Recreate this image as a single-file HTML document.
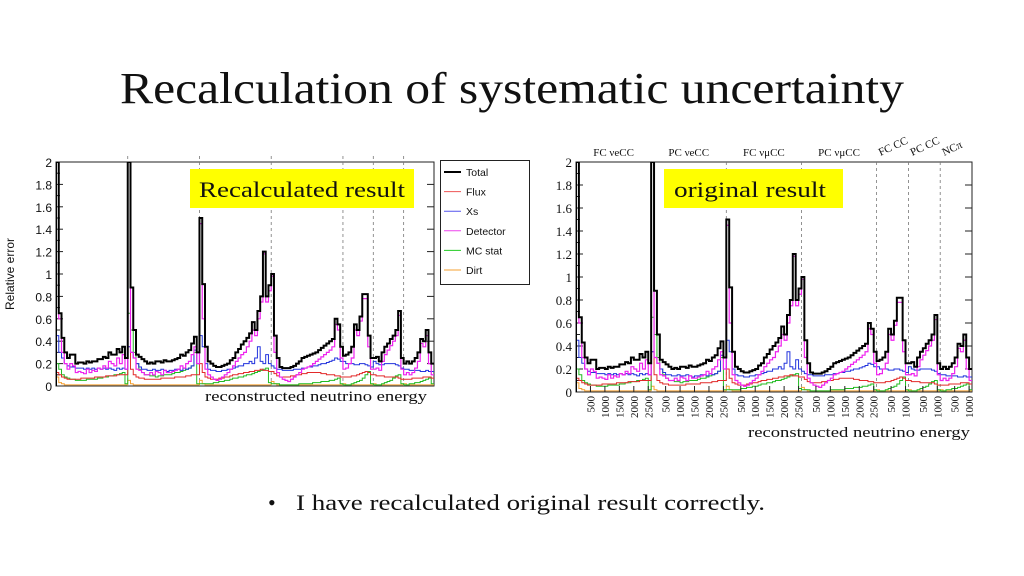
<!DOCTYPE html>
<html><head><meta charset="utf-8"><style>
html,body{margin:0;padding:0;background:#fff;}
svg{display:block;}
</style></head><body>
<svg id="s" width="1024" height="576" viewBox="0 0 1024 576" xmlns="http://www.w3.org/2000/svg">
<text x="512" y="103" text-anchor="middle" font-family="Liberation Serif, serif" font-size="44" textLength="784" lengthAdjust="spacingAndGlyphs" fill="#111">Recalculation of systematic uncertainty</text>
<g id="left"></g>
<g id="right"></g>
<text x="268" y="510" font-family="Liberation Serif, serif" font-size="22" fill="#111">•<tspan x="296" textLength="469" lengthAdjust="spacingAndGlyphs">I have recalculated original result correctly.</tspan></text>
</svg>
<script>
// bin data: 7 channels (26,26,26,26,11,11,11 bins)
const channelSizes=[26,26,26,26,11,11,11];
const channelNames=["FC \u03BDeCC","PC \u03BDeCC","FC \u03BD\u03BCCC","PC \u03BD\u03BCCC","FC CC","PC CC","NC\u03C0"];
const yTicks=[0,0.2,0.4,0.6,0.8,1,1.2,1.4,1.6,1.8,2];
const yTickLabels=["0","0.2","0.4","0.6","0.8","1","1.2","1.4","1.6","1.8","2"];
const xTickLabelsLong=["500","1000","1500","2000","2500"];
const xTickLabelsShort=["500","1000"];
const total=[2,0.65,0.43,0.3,0.25,0.28,0.28,0.2,0.21,0.21,0.2,0.22,0.21,0.22,0.22,0.24,0.24,0.26,0.25,0.3,0.28,0.28,0.33,0.3,0.35,0.25,
2,0.88,0.5,0.28,0.26,0.24,0.22,0.2,0.21,0.2,0.22,0.22,0.21,0.23,0.22,0.22,0.23,0.24,0.25,0.28,0.27,0.3,0.32,0.38,0.44,0.3,
1.5,0.91,0.35,0.22,0.2,0.18,0.17,0.17,0.18,0.19,0.2,0.23,0.25,0.3,0.33,0.37,0.4,0.43,0.47,0.57,0.5,0.67,0.8,1.2,0.8,0.9,
1.0,0.45,0.25,0.17,0.16,0.16,0.16,0.17,0.18,0.2,0.22,0.25,0.26,0.27,0.28,0.29,0.3,0.32,0.34,0.36,0.38,0.4,0.42,0.6,0.55,0.35,
0.27,0.28,0.3,0.35,0.55,0.5,0.62,0.82,0.82,0.45,0.25,
0.25,0.26,0.22,0.3,0.35,0.38,0.42,0.45,0.5,0.67,0.25,
0.2,0.22,0.2,0.22,0.25,0.3,0.42,0.4,0.5,0.3,0.2];
const detector=[2,0.6,0.3,0.2,0.15,0.2,0.18,0.12,0.13,0.12,0.11,0.15,0.12,0.14,0.13,0.16,0.15,0.18,0.16,0.22,0.2,0.18,0.25,0.2,0.28,0.15,
2,0.3,0.25,0.15,0.14,0.12,0.1,0.1,0.12,0.1,0.13,0.12,0.1,0.14,0.12,0.12,0.13,0.14,0.15,0.18,0.16,0.2,0.22,0.28,0.35,0.2,
1.45,0.6,0.15,0.1,0.08,0.06,0.05,0.06,0.08,0.1,0.12,0.15,0.18,0.22,0.25,0.28,0.3,0.35,0.4,0.5,0.45,0.6,0.75,1.18,0.75,0.85,
0.98,0.3,0.12,0.08,0.06,0.05,0.04,0.06,0.08,0.1,0.12,0.15,0.16,0.17,0.18,0.2,0.22,0.24,0.26,0.28,0.3,0.32,0.35,0.55,0.5,0.25,
0.15,0.16,0.2,0.25,0.5,0.45,0.58,0.78,0.78,0.35,0.15,
0.15,0.16,0.14,0.22,0.28,0.32,0.36,0.4,0.45,0.63,0.15,
0.1,0.12,0.1,0.12,0.16,0.22,0.38,0.35,0.45,0.2,0.1];
const xs=[0.45,0.3,0.25,0.2,0.18,0.17,0.17,0.16,0.16,0.16,0.15,0.16,0.15,0.16,0.15,0.16,0.15,0.16,0.15,0.16,0.15,0.14,0.16,0.15,0.16,0.15,
0.35,0.3,0.25,0.2,0.17,0.15,0.15,0.14,0.14,0.15,0.14,0.14,0.15,0.14,0.13,0.14,0.14,0.15,0.15,0.14,0.16,0.15,0.16,0.18,0.32,0.2,
0.45,0.35,0.2,0.15,0.14,0.14,0.13,0.13,0.14,0.14,0.15,0.15,0.16,0.17,0.18,0.18,0.2,0.2,0.22,0.2,0.25,0.35,0.22,0.2,0.28,0.2,
0.18,0.16,0.15,0.15,0.14,0.14,0.14,0.14,0.15,0.15,0.15,0.16,0.16,0.17,0.17,0.18,0.18,0.19,0.2,0.2,0.21,0.22,0.23,0.25,0.24,0.22,
0.22,0.2,0.2,0.2,0.19,0.19,0.2,0.2,0.19,0.18,0.17,
0.22,0.2,0.19,0.19,0.2,0.2,0.2,0.2,0.19,0.18,0.16,
0.15,0.15,0.14,0.14,0.14,0.14,0.13,0.13,0.14,0.13,0.13];
const flux=[0.12,0.1,0.08,0.07,0.06,0.06,0.06,0.06,0.06,0.07,0.07,0.07,0.07,0.07,0.08,0.08,0.08,0.08,0.09,0.09,0.09,0.09,0.1,0.1,0.1,0.1,
0.35,0.15,0.1,0.08,0.07,0.07,0.06,0.06,0.06,0.06,0.06,0.06,0.07,0.07,0.07,0.07,0.07,0.08,0.08,0.08,0.08,0.09,0.09,0.1,0.1,0.1,
0.2,0.12,0.08,0.07,0.06,0.06,0.06,0.07,0.07,0.08,0.08,0.09,0.1,0.1,0.11,0.11,0.12,0.12,0.13,0.13,0.14,0.14,0.15,0.14,0.14,0.13,
0.13,0.11,0.09,0.08,0.08,0.08,0.08,0.09,0.09,0.1,0.1,0.11,0.11,0.12,0.12,0.12,0.12,0.12,0.11,0.11,0.1,0.1,0.1,0.09,0.09,0.08,
0.08,0.08,0.08,0.09,0.09,0.1,0.11,0.12,0.13,0.12,0.1,
0.1,0.09,0.09,0.09,0.08,0.08,0.08,0.08,0.08,0.07,0.06,
0.06,0.06,0.06,0.07,0.07,0.07,0.07,0.08,0.08,0.08,0.07];
const mcstat=[0.2,0.15,0.1,0.08,0.07,0.06,0.06,0.05,0.05,0.05,0.05,0.06,0.06,0.06,0.06,0.07,0.07,0.08,0.08,0.09,0.09,0.1,0.1,0.11,0.12,0.02,
0.65,0.5,0.3,0.2,0.15,0.12,0.1,0.1,0.09,0.09,0.08,0.09,0.09,0.1,0.1,0.1,0.11,0.12,0.12,0.13,0.14,0.15,0.16,0.18,0.3,0.02,
0.02,0.02,0.02,0.02,0.02,0.03,0.03,0.04,0.04,0.05,0.05,0.06,0.07,0.07,0.08,0.08,0.09,0.1,0.1,0.11,0.12,0.13,0.14,0.15,0.16,0.03,
0.02,0.02,0.02,0.01,0.01,0.01,0.01,0.01,0.01,0.01,0.02,0.02,0.02,0.02,0.02,0.03,0.03,0.03,0.04,0.04,0.04,0.05,0.05,0.06,0.07,0.02,
0.01,0.01,0.01,0.02,0.03,0.04,0.05,0.07,0.1,0.13,0.02,
0.01,0.01,0.01,0.02,0.03,0.04,0.05,0.07,0.09,0.1,0.02,
0.01,0.01,0.02,0.02,0.03,0.03,0.04,0.05,0.06,0.07,0.02];
const dirt=[0.08,0.03,0.02,0.01,0.01,0.01,0.01,0.01,0.01,0.01,0.01,0.01,0.01,0.01,0.01,0.01,0.01,0.01,0.01,0.01,0.01,0.01,0.01,0.01,0.01,0.01,
0.05,0.02,0.01,0.01,0.01,0.01,0.01,0.01,0.01,0.01,0.01,0.01,0.01,0.01,0.01,0.01,0.01,0.01,0.01,0.01,0.01,0.01,0.01,0.01,0.01,0.01,
0.05,0.02,0.01,0.01,0.01,0.01,0.01,0.01,0.01,0.01,0.01,0.01,0.01,0.01,0.01,0.01,0.01,0.01,0.01,0.01,0.01,0.01,0.01,0.01,0.01,0.01,
0.04,0.02,0.01,0.01,0.01,0.01,0.01,0.01,0.01,0.01,0.01,0.01,0.01,0.01,0.01,0.01,0.01,0.01,0.01,0.01,0.01,0.01,0.01,0.01,0.01,0.01,
0.02,0.01,0.01,0.01,0.01,0.01,0.01,0.01,0.01,0.01,0.01,
0.02,0.01,0.01,0.01,0.01,0.01,0.01,0.01,0.01,0.01,0.01,
0.02,0.01,0.01,0.01,0.01,0.01,0.01,0.01,0.01,0.01,0.01];

const NS="http://www.w3.org/2000/svg";
function mk(parent,tag,attrs,text){const e=document.createElementNS(NS,tag);for(const k in attrs)e.setAttribute(k,attrs[k]);if(text!==undefined)e.textContent=text;parent.appendChild(e);return e;}

function drawChart(g,cfg){
  const nb=total.length;
  const xScale=i=>cfg.x0+(cfg.x1-cfg.x0)*i/nb;
  const yScale=v=>cfg.y0-(cfg.y0-cfg.yTop)*Math.min(v,2.02)/2;
  const clipId=cfg.id+"clip";
  const defs=mk(g,"defs",{});
  const cp=mk(defs,"clipPath",{id:clipId});
  mk(cp,"rect",{x:cfg.x0,y:cfg.yTop,width:cfg.x1-cfg.x0,height:cfg.y0-cfg.yTop});
  // frame
  const frame=mk(g,"rect",{x:cfg.x0,y:cfg.yTop,width:cfg.x1-cfg.x0,height:cfg.y0-cfg.yTop,fill:"none",stroke:"#222","stroke-width":1});
  
  
  // channel boundaries
  let acc=0;
  channelSizes.forEach((n,ci)=>{
    if(ci>0){const x=xScale(acc);
      const l=mk(g,"line",{x1:x,x2:x,y1:cfg.yTop-(cfg.id==="L"?6:0),y2:cfg.y0,stroke:"#777","stroke-width":0.8,"stroke-dasharray":"3,3"});
      
      }
    acc+=n;});
  // y ticks
  yTicks.forEach((v,i)=>{
    const y=yScale(v);
    mk(g,"line",{x1:cfg.x0,x2:cfg.x0+7,y1:y,y2:y,stroke:"#222","stroke-width":1});
    mk(g,"line",{x1:cfg.x1,x2:cfg.x1-7,y1:y,y2:y,stroke:"#222","stroke-width":1});
    if(i<yTicks.length-1){const ym=yScale(v+0.1);mk(g,"line",{x1:cfg.x0,x2:cfg.x0+4,y1:ym,y2:ym,stroke:"#222","stroke-width":1});}
    const t=mk(g,"text",{x:cfg.x0-4,y:y+5,"text-anchor":"end","font-family":cfg.font,"font-size":cfg.tickSize,fill:"#111"},yTickLabels[i]);
    
    
  });
  // series
  const series=[["dirt",dirt,"#f5a030",1],["mc-stat",mcstat,"#22bb22",1],["flux",flux,"#e22a2a",1],["xs",xs,"#2233dd",1],["detector",detector,"#ee22ee",1.2],["total",total,"#000",2]];
  series.forEach(([name,arr,col,w])=>{
    let d="";
    for(let i=0;i<arr.length;i++){
      const xa=xScale(i),xb=xScale(i+1),y=yScale(arr[i]);
      d+=(i===0?"M"+xa+","+yScale(0)+"L":"L")+xa+","+y+"L"+xb+","+y;
    }
    const p=mk(g,"path",{d:d,fill:"none",stroke:col,"stroke-width":w,"clip-path":"url(#"+clipId+")"});
    
    
  });
  return xScale;
}

// Left chart
const L=document.getElementById("left");
drawChart(L,{id:"L",x0:56,x1:434,y0:386,yTop:162,font:"Liberation Sans, sans-serif",tickSize:12});
const yt=mk(L,"text",{x:0,y:0,transform:"translate(14,274) rotate(-90)","text-anchor":"middle","font-family":"Liberation Sans, sans-serif","font-size":12,fill:"#111"},"Relative error");


const lg=mk(L,"g",{});


mk(lg,"rect",{x:440.5,y:160.5,width:89,height:124,fill:"#fff",stroke:"#222","stroke-width":1});
const legendNames=["Total","Flux","Xs","Detector","MC stat","Dirt"];
const legendCols=["#000","#e55","#55e","#e4e","#2c2","#f5a030"];
legendNames.forEach((n,i)=>{
  const y=172+i*19.6;
  mk(lg,"line",{x1:444,x2:461,y1:y,y2:y,stroke:legendCols[i],"stroke-width":i===0?2:1});
  const t=mk(lg,"text",{x:466,y:y+4,"font-family":"Liberation Sans, sans-serif","font-size":10.5,fill:"#111"},n);
  
  
});
const yb1=mk(L,"rect",{x:190,y:169,width:224,height:39,fill:"#ffff00"});


const yl1=mk(L,"text",{x:302,y:197,"text-anchor":"middle","font-family":"Liberation Serif, serif","font-size":22,fill:"#111",textLength:206,lengthAdjust:"spacingAndGlyphs"},"Recalculated result");


const xl1=mk(L,"text",{x:427,y:401,"text-anchor":"end","font-family":"Liberation Serif, serif","font-size":15,fill:"#111",textLength:222,lengthAdjust:"spacingAndGlyphs"},"reconstructed neutrino energy");



// Right chart
const R=document.getElementById("right");
const xsR=drawChart(R,{id:"R",x0:576,x1:972,y0:392,yTop:162,font:"Liberation Serif, serif",tickSize:13});
let start=0;
channelSizes.forEach((n,ci)=>{
  const labels=n===26?xTickLabelsLong:xTickLabelsShort;
  labels.forEach((lab,k)=>{
    const x=xsR(start+(k+1)*5);
    mk(R,"line",{x1:x,x2:x,y1:392,y2:386,stroke:"#222","stroke-width":1});
    const t=mk(R,"text",{x:0,y:0,transform:"translate("+(x+4)+",396) rotate(-90)","text-anchor":"end","font-family":"Liberation Serif, serif","font-size":11,fill:"#111"},lab);
    
    
  });
  const cx=xsR(start+n/2);
  let t;
  if(n===26){t=mk(R,"text",{x:cx,y:156,"text-anchor":"middle","font-family":"Liberation Serif, serif","font-size":11,fill:"#111"},channelNames[ci]);}
  else{t=mk(R,"text",{x:0,y:0,transform:"translate("+(cx-12)+",156) rotate(-25)","font-family":"Liberation Serif, serif","font-size":11,fill:"#111"},channelNames[ci]);}
  
  
  start+=n;
});
const yb2=mk(R,"rect",{x:664,y:169,width:179,height:39,fill:"#ffff00"});


const yl2=mk(R,"text",{x:750,y:197,"text-anchor":"middle","font-family":"Liberation Serif, serif","font-size":22,fill:"#111",textLength:152,lengthAdjust:"spacingAndGlyphs"},"original result");


const xl2=mk(R,"text",{x:970,y:437,"text-anchor":"end","font-family":"Liberation Serif, serif","font-size":15,fill:"#111",textLength:222,lengthAdjust:"spacingAndGlyphs"},"reconstructed neutrino energy");


</script>
</body></html>
